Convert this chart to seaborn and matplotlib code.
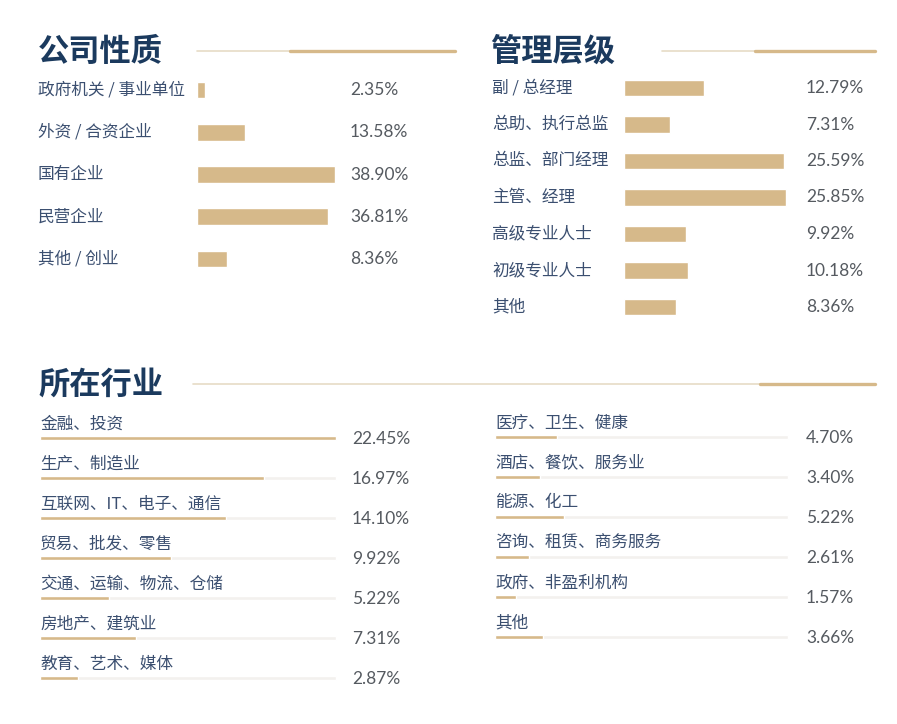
import matplotlib
matplotlib.use("Agg")
import matplotlib.pyplot as plt
import seaborn as sns
import pandas as pd
from matplotlib.lines import Line2D

# -------------------- 数据 --------------------
company_types = ['政府机关 / 事业单位', '外资 / 合资企业', '国有企业', '民营企业', '其他 / 创业']
company_pct = [2.35, 13.58, 38.90, 36.81, 8.36]

levels = ['副 / 总经理', '总助、执行总监', '总监、部门经理', '主管、经理', '高级专业人士', '初级专业人士', '其他']
level_pct = [12.79, 7.31, 25.59, 25.85, 9.92, 10.18, 8.36]

industry_left = ['金融、投资', '生产、制造业', '互联网、IT、电子、通信', '贸易、批发、零售',
                 '交通、运输、物流、仓储', '房地产、建筑业', '教育、艺术、媒体']
industry_left_pct = [22.45, 16.97, 14.10, 9.92, 5.22, 7.31, 2.87]

industry_right = ['医疗、卫生、健康', '酒店、餐饮、服务业', '能源、化工',
                  '咨询、租赁、商务服务', '政府、非盈利机构', '其他']
industry_right_pct = [4.70, 3.40, 5.22, 2.61, 1.57, 3.66]

# -------------------- 样式 --------------------
W, H, DPI = 897, 724, 100
GOLD = '#d6b98a'
GOLD_LIGHT = '#e6dcc6'
TRACK = '#f3f1ee'
NAVY = '#1b3a5e'
LABEL = '#3b4f70'
VALUE = '#555a60'
CJK = ['Noto Sans CJK SC', 'DejaVu Sans']
NUM = ['Lato', 'DejaVu Sans']
PT = 72 / DPI  # 像素 -> 点

sns.set_theme(style='white')
plt.rcParams['font.family'] = CJK

fig = plt.figure(figsize=(W / DPI, H / DPI), dpi=DPI)
fig.patch.set_facecolor('white')


def px_axes(left, top, width, height):
    return fig.add_axes([left / W, 1 - (top + height) / H, width / W, height / H])


def title(x, y, text, line_x0, line_split, line_x1):
    fig.text(x / W, 1 - (y + 2) / H, text, fontsize=22.5, fontweight='bold', color=NAVY,
             ha='left', va='center', family=CJK)
    ly = 1 - (y + 1) / H
    fig.add_artist(Line2D([line_x0 / W, line_split / W], [ly, ly], color=GOLD_LIGHT, lw=1.2))
    fig.add_artist(Line2D([line_split / W, line_x1 / W], [ly, ly], color=GOLD, lw=2.4))


def clean(ax):
    ax.set_xlabel('')
    ax.set_ylabel('')
    ax.set_xticks([])
    ax.set_yticks([])
    sns.despine(ax=ax, left=True, bottom=True)
    ax.patch.set_alpha(0)


def block_chart(ax, cats, vals, xmax, bar_h, label_dx, value_dx):
    df = pd.DataFrame({'cat': cats, 'pct': vals})
    sns.barplot(data=df, x='pct', y='cat', color=GOLD, width=bar_h, saturation=1, ax=ax)
    ax.set_xlim(0, xmax)
    ax.set_ylim(len(cats) - 0.5, -0.5)
    for i, (c, v) in enumerate(zip(cats, vals)):
        ax.annotate(c, xy=(0, i), xycoords=('axes fraction', 'data'),
                    xytext=(label_dx * PT, 0), textcoords='offset points',
                    ha='left', va='center', fontsize=12, color=LABEL, family=CJK)
        ax.annotate(f'{v:.2f}%', xy=(0, i), xycoords=('axes fraction', 'data'),
                    xytext=(value_dx * PT, 0), textcoords='offset points',
                    ha='left', va='center', fontsize=12.5, color=VALUE, family=NUM)
    clean(ax)


def line_chart(ax, cats, vals, xmax, track, value_dx):
    df = pd.DataFrame({'cat': cats, 'pct': vals, 'track': [track] * len(cats)})
    sns.barplot(data=df, x='track', y='cat', color=TRACK, width=0.1, saturation=1, ax=ax)
    sns.barplot(data=df, x='pct', y='cat', color=GOLD, width=0.11, saturation=1, ax=ax)
    ax.set_xlim(0, xmax)
    ax.set_ylim(len(cats) - 0.5, -0.5)
    for i, (c, v) in enumerate(zip(cats, vals)):
        ax.annotate(c, xy=(0, i), xycoords=('axes fraction', 'data'),
                    xytext=(0, 14 * PT), textcoords='offset points',
                    ha='left', va='center', fontsize=12, color=LABEL, family=CJK)
        ax.annotate(f'{v:.2f}%', xy=(0, i), xycoords=('axes fraction', 'data'),
                    xytext=(value_dx * PT, -1 * PT), textcoords='offset points',
                    ha='left', va='center', fontsize=12.5, color=VALUE, family=NUM)
    clean(ax)


# -------------------- 公司性质 --------------------
title(38, 50, '公司性质', 197, 290, 455)
ax1 = px_axes(197, 90 - 21.1, 3.55 * 40, 42.25 * 5)
block_chart(ax1, company_types, company_pct, 40, 0.40, -159, 153)

# -------------------- 管理层级 --------------------
title(490, 50, '管理层级', 662, 755, 875)
ax2 = px_axes(624, 88 - 18.25, 6.27 * 28, 36.5 * 7)
block_chart(ax2, levels, level_pct, 28, 0.44, -132, 182)

# -------------------- 所在行业 --------------------
title(38, 383, '所在行业', 193, 760, 875)
ax3 = px_axes(40, 438 - 20, 13.2 * 24, 40 * 7)
line_chart(ax3, industry_left, industry_left_pct, 24, 22.4, 312)

ax4 = px_axes(495, 437 - 20, 13.2 * 24, 40 * 6)
line_chart(ax4, industry_right, industry_right_pct, 24, 22.2, 311)

fig.savefig('out.png', dpi=DPI, facecolor='white')
